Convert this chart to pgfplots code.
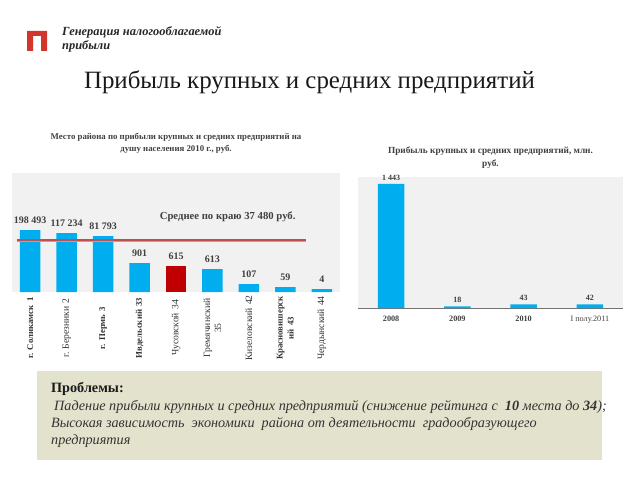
\documentclass[border=0pt]{standalone}
\usepackage{pgfplots}
\pgfplotsset{compat=1.18}
\usepackage{fontspec}
\setmainfont{Liberation Serif}
\definecolor{barblue}{HTML}{00AEEF}
\definecolor{barred}{HTML}{C00000}
\definecolor{avgline}{HTML}{C0504D}
\definecolor{plotgrey}{HTML}{F1F1F1}
\definecolor{boxfill}{HTML}{E3E3CD}
\definecolor{logored}{HTML}{D2352D}
\definecolor{lbl}{HTML}{404040}
\newcommand{\fs}[1]{\fontsize{#1}{#1}\selectfont}
\newcommand{\bsm}[1]{{\fontsize{8.8}{11}\selectfont\textbf{#1}}}
\frenchspacing
\begin{document}
\begin{tikzpicture}[x=1pt,y=1pt]
\useasboundingbox (0,0) rectangle (640,480);
% logo
\fill[logored] (27,429) -- (27,449) -- (47,449) -- (47,429) -- (41,429) -- (41,444) -- (33,444) -- (33,429) -- cycle;
\node[anchor=west,align=left,inner sep=0pt,font={\fontsize{12.4}{14}\selectfont\bfseries\itshape},text=black!85] at (62,441) {Генерация налогооблагаемой\\прибыли};
\node[inner sep=0pt,font=\fs{24.9},text=black!90] at (309.5,398) {Прибыль крупных и средних предприятий};
% left chart
\begin{axis}[at={(12pt,188pt)},anchor=south west,width=328pt,height=119pt,scale only axis,
  xmin=-0.5,xmax=8.5,ymin=0,ymax=119,
  hide y axis,axis x line*=bottom,axis line style={draw=none},
  axis background/.style={fill=plotgrey},
  xtick={0,...,8},major tick length=0pt,
  xticklabels={{\bsm{г. Соликамск 1}},{г. Березники 2},{\bsm{г. Пермь 3}},{\bsm{Ивдельский 33}},{Чусовской 34},{Гремячинский\\35},{Кизеловский 42},{\bsm{Красновишерск}\\\bsm{ий 43}},{Чердынский 44}},
  xticklabel style={rotate=90,anchor=east,align=center,text width=68pt,font={\fontsize{9.6}{11}\selectfont},text=black!80,xshift=1.5pt,yshift=0pt},
  ybar,bar width=20.5pt,
  nodes near coords,point meta=explicit symbolic,
  every node near coord/.append style={font=\fs{10}\bfseries,text=lbl,inner sep=1pt,yshift=5pt},
  title={Место района по прибыли крупных и средних предприятий на\\душу населения 2010 г., руб.},
  title style={align=center,at={(0.5,1)},anchor=south,yshift=13pt,text=black!75,inner sep=0pt,font={\fontsize{8.8}{12}\selectfont\bfseries}},
  clip=false]
\addplot[bar shift=0pt,fill=barblue,draw=none] coordinates {(0,62)[198 493] (1,59)[117 234] (2,56)[81 793] (3,29)[901] (5,23)[613] (6,8)[107] (7,5)[59] (8,3)[4]};
\addplot[bar shift=0pt,fill=barred,draw=none] coordinates {(4,26)[615]};
\addplot[sharp plot,black!35,line width=1.5pt,nodes near coords={},forget plot] coordinates {(-0.363,51) (7.568,51)};
\addplot[sharp plot,avgline,line width=2.2pt,nodes near coords={},forget plot] coordinates {(-0.363,52) (7.568,52)};
\node[font=\fs{10.7}\bfseries,text=lbl,anchor=west,inner sep=0pt] at (axis cs:3.55,75) {Среднее по краю 37 480 руб.};
\end{axis}
% right chart
\begin{axis}[at={(358pt,172pt)},anchor=south west,width=265pt,height=131pt,scale only axis,
  xmin=-0.5,xmax=3.5,ymin=0,ymax=1524,
  hide y axis,axis x line*=bottom,axis line style={draw=black!55,line width=0.8pt},
  axis background/.style={fill=plotgrey},
  xtick={0,...,3},major tick length=0pt,
  xticklabels={\textbf{2008},\textbf{2009},\textbf{2010},{I полу.2011}},
  xticklabel style={font=\fs{8.2},text=black!75,yshift=-5pt},
  ybar,bar width=26.5pt,
  nodes near coords,point meta=explicit symbolic,
  every node near coord/.append style={font=\fs{8}\bfseries,text=lbl,inner sep=1pt,yshift=2.5pt},
  title={Прибыль крупных и средних предприятий, млн.\\руб.},
  title style={align=center,at={(0.5,1)},anchor=south,yshift=2pt,text=black!75,inner sep=0pt,font={\fontsize{9.3}{13}\selectfont\bfseries}},
  clip=false]
\addplot[bar shift=0pt,fill=barblue,draw=none] coordinates {(0,1443)[1 443] (1,18)[18] (2,43)[43] (3,42)[42]};
\end{axis}
% text box
\fill[boxfill] (37,20) rectangle (602,109);
\node[anchor=base west,inner sep=0pt,font=\fs{14.2}\bfseries,text=black!90] at (51,88) {Проблемы:};
\node[anchor=base west,inner sep=0pt,font=\fs{14.2}\itshape,text=black!80] at (54,70) {Падение прибыли крупных и средних предприятий (снижение рейтинга с\ \ \textbf{10} места до \textbf{34});};
\node[anchor=base west,inner sep=0pt,font=\fs{14.2}\itshape,text=black!80] at (51,53) {Высокая зависимость\ \ экономики\ \ района от деятельности\ \ градообразующего};
\node[anchor=base west,inner sep=0pt,font=\fs{14.2}\itshape,text=black!80] at (51,36) {предприятия};
\end{tikzpicture}
\end{document}
